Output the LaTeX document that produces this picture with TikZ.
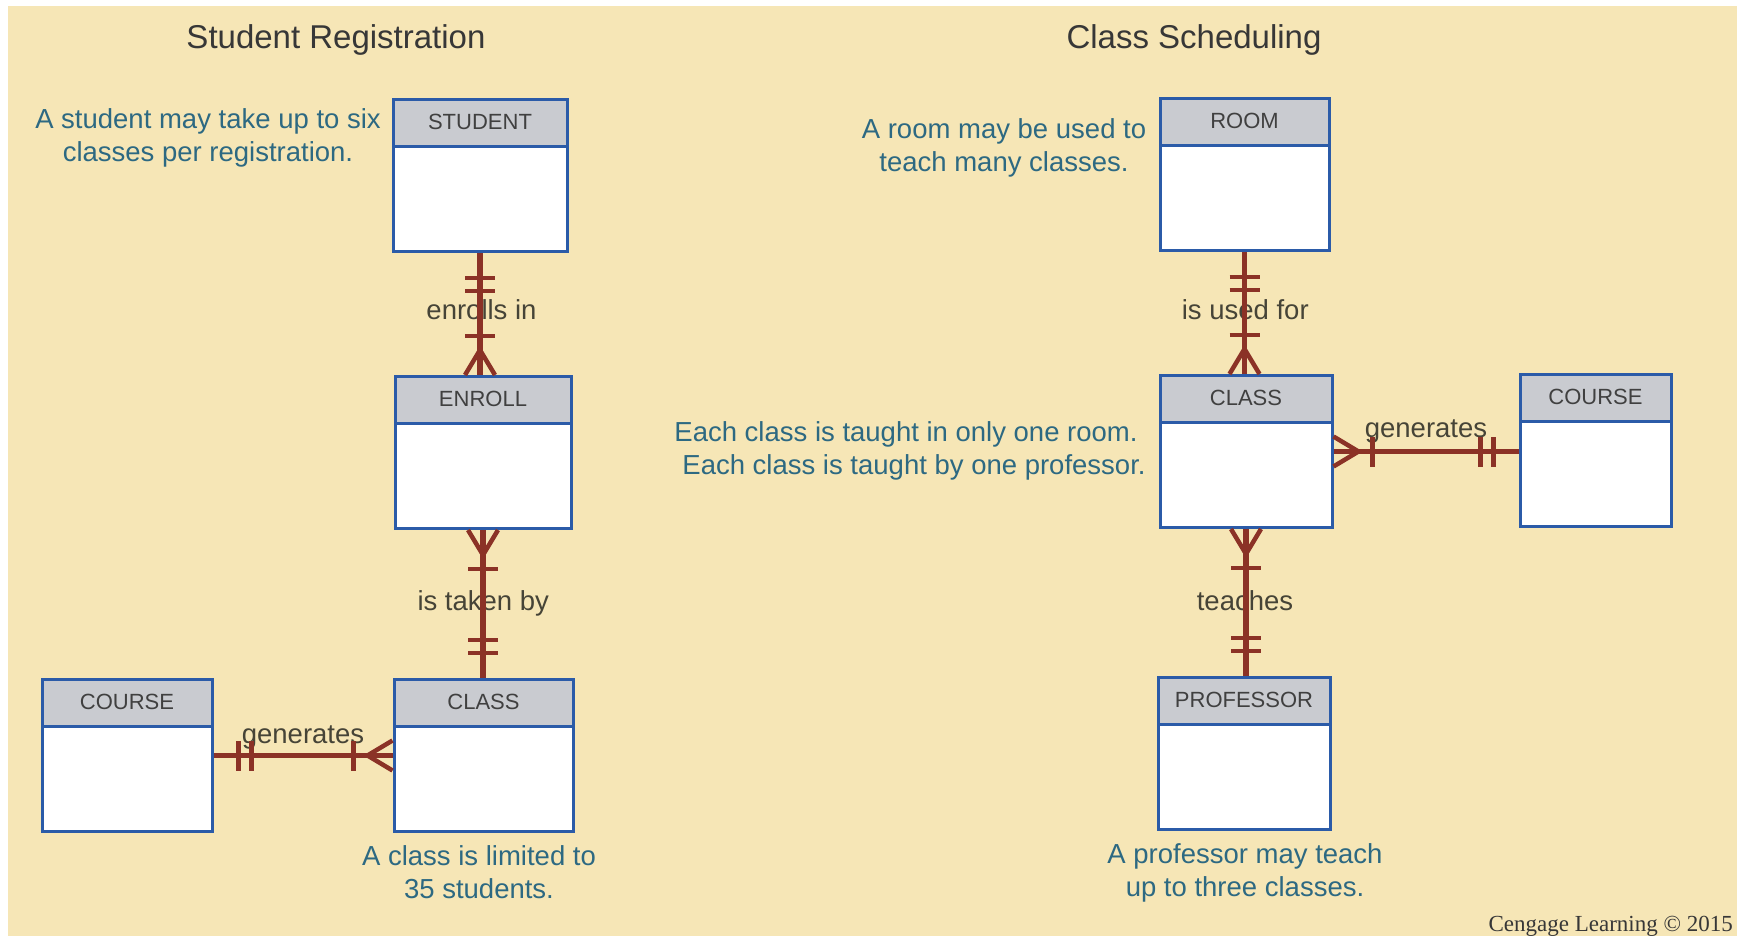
\documentclass[tikz,border=0pt]{standalone}
\usepackage{fontspec}
\setmainfont{Liberation Sans}
\newfontfamily\cengfont{Liberation Serif}
\usetikzlibrary{decorations.markings,calc}
\definecolor{bgc}{RGB}{246,230,182}
\definecolor{entblue}{RGB}{43,91,168}
\definecolor{headgray}{RGB}{201,203,208}
\definecolor{relc}{RGB}{139,50,38}
\definecolor{notec}{RGB}{45,105,130}
\definecolor{labc}{RGB}{70,68,55}
\definecolor{titc}{RGB}{55,55,55}
\definecolor{headtxt}{RGB}{64,64,64}
\tikzset{
  entbox/.style={draw=entblue, line width=3pt, fill=white, minimum height=152pt, inner sep=0pt, anchor=north},
  enthead/.style={draw=entblue, line width=3pt, fill=headgray, minimum height=47pt, inner sep=0pt, anchor=north,
    text=headtxt, font=\fontsize{22}{26}\selectfont},
  rel/.style={draw=relc, line width=5.5pt},
  bar/.style={draw=relc, line width=4.5pt},
  onestart/.style={postaction={decorate,decoration={markings,
    mark=at position 25pt with {\draw[bar] (0pt,-15pt) -- (0pt,15pt);},
    mark=at position 38pt with {\draw[bar] (0pt,-15pt) -- (0pt,15pt);}}}},
  oneend/.style={postaction={decorate,decoration={markings,
    mark=at position -38pt with {\draw[bar] (0pt,-15pt) -- (0pt,15pt);},
    mark=at position -25pt with {\draw[bar] (0pt,-15pt) -- (0pt,15pt);}}}},
  manystart/.style={postaction={decorate,decoration={markings,
    mark=at position 25pt with {\draw[bar] (0pt,0pt) -- (-25pt,15pt) (0pt,0pt) -- (-25pt,-15pt);},
    mark=at position 39pt with {\draw[bar] (0pt,-15pt) -- (0pt,15pt);}}}},
  manyend/.style={postaction={decorate,decoration={markings,
    mark=at position -39pt with {\draw[bar] (0pt,-15pt) -- (0pt,15pt);},
    mark=at position -25pt with {\draw[bar] (0pt,0pt) -- (25pt,15pt) (0pt,0pt) -- (25pt,-15pt);}}}},
  note/.style={text=notec, align=center, font=\fontsize{27.5}{33}\selectfont},
  rlabel/.style={text=labc, inner sep=0pt, font=\fontsize{27.5}{33}\selectfont},
  title/.style={text=titc, font=\fontsize{33}{38}\selectfont},
}
\newcommand\erent[5]{%
  \node[entbox, minimum width=#5] (#1) at (#3,#4) {};
  \node[enthead, minimum width=#5] (#1-h) at (#1.north) {\raisebox{2pt}{#2}};
}
\begin{document}
\begin{tikzpicture}[x=1pt,y=-1pt]
\useasboundingbox (0,0) rectangle (1741,937);
\fill[bgc] (8,6) rectangle (1737,936);

% titles
\node[title] (t1) at (336,40) {Student Registration};
\node[title] (t2) at (1194,40) {Class Scheduling};

% entities
\erent{student}{STUDENT}{480}{98}{174}
\erent{enroll}{ENROLL}{483}{375}{176}
\erent{classl}{CLASS}{483.5}{678}{179}
\erent{coursel}{COURSE}{127}{678}{170}
\erent{room}{ROOM}{1244.5}{97}{169}
\erent{classr}{CLASS}{1246}{374}{172}
\erent{courser}{COURSE}{1595.5}{373}{151}
\erent{prof}{PROFESSOR}{1244}{676}{172}

% relationship labels
\node[rlabel] (l1) at ($(student.south)!0.5!(enroll.north)+(0,-4)$) {enrolls in};
\node[rlabel] (l2) at ($(enroll.south)!0.5!(classl.north)+(0,-1)$) {is taken by};
\node[rlabel] (l3) at ($(coursel.east)!0.5!(classl.west)+(0,-18)$) {generates};
\node[rlabel] (l4) at ($(room.south)!0.5!(classr.north)+(0,-3)$) {is used for};
\node[rlabel] (l5) at ($(classr.east)!0.5!(courser.west)+(0,-20)$) {generates};
\node[rlabel] (l6) at ($(classr.south)!0.5!(prof.north)+(0,-2)$) {teaches};

% connectors
\draw[rel, onestart, manyend] (student.south) -- (student.south |- enroll.north);
\draw[rel, manystart, oneend] (enroll.south) -- (enroll.south |- classl.north);
\draw[rel, onestart, manyend] (coursel.east) -- (coursel.east -| classl.west);
\draw[rel, onestart, manyend] (room.south) -- (room.south |- classr.north);
\draw[rel, manystart, oneend] (classr.east) -- (classr.east -| courser.west);
\draw[rel, manystart, oneend] (classr.south) -- (classr.south |- prof.north);

% notes
\node[note] (n1) at (208,138) {A student may take up to six\\classes per registration.};
\node[note] (n2) at (1004,148) {A room may be used to\\teach many classes.};
\node[note] (n3) at (906,451) {Each class is taught in only one room.\\\hspace*{16pt}Each class is taught by one professor.};
\node[note] (n4) at (479,872) {A class is limited to\\35 students.};
\node[note] (n5) at (1245,873) {A professor may teach\\up to three classes.};

\node[anchor=east, text=titc, inner sep=0pt, font=\cengfont\fontsize{23}{26}\selectfont] (copy) at (1733,926) {Cengage Learning © 2015};
\end{tikzpicture}
\end{document}
